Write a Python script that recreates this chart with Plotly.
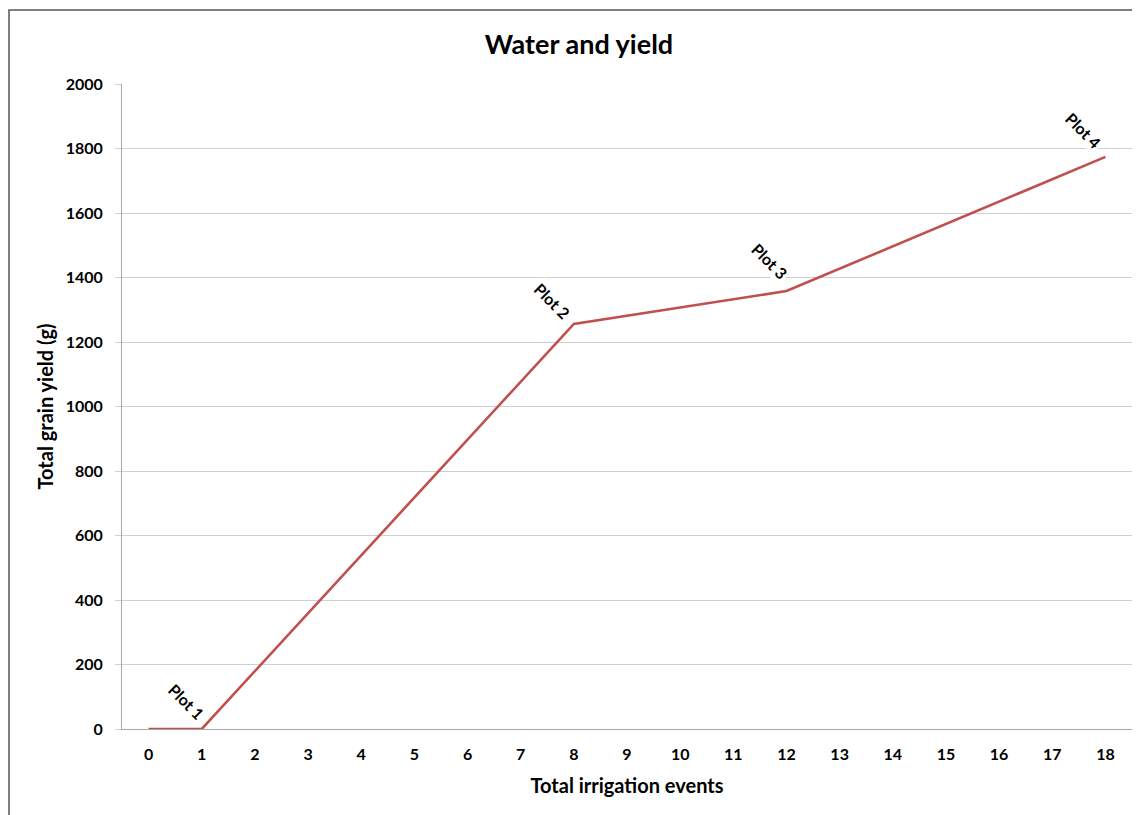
import plotly.graph_objects as go

irrigation_events = [0, 1, 8, 12, 18]
grain_yield = [0, 0, 1256, 1358, 1774]
point_labels = ["", "Plot 1", "Plot 2", "Plot 3", "Plot 4"]
x_ticks = list(range(0, 19))
y_ticks = [0, 200, 400, 600, 800, 1000, 1200, 1400, 1600, 1800, 2000]

font_family = "Lato, 'Open Sans', sans-serif"

W, H = 1132, 807
L, R, T, B = 114, 8, 76, 86
PW, PH = W - L - R, H - T - B

fig = go.Figure()
fig.add_trace(go.Scatter(
    x=irrigation_events, y=grain_yield, mode="lines",
    line=dict(color="#c0504d", width=2.6), showlegend=False, hoverinfo="x+y"))

offsets = {"Plot 1": (-15, 28), "Plot 2": (-22, 23), "Plot 3": (-16, 30), "Plot 4": (-22, 26)}
for xv, yv, lab in zip(irrigation_events, grain_yield, point_labels):
    if not lab:
        continue
    dx, dy = offsets[lab]
    fig.add_annotation(x=xv, y=yv, text="<b>%s</b>" % lab, showarrow=False,
                       textangle=45, xshift=dx, yshift=dy, bgcolor="white",
                       font=dict(family=font_family, size=16, color="#000000"))

fig.update_layout(
    width=W, height=H,
    margin=dict(l=L, r=R, t=T, b=B),
    paper_bgcolor="white", plot_bgcolor="white",
    title=dict(text="<b>Water and yield</b>", x=571 / W, xanchor="center", y=1 - 37 / H, yanchor="middle",
               font=dict(family=font_family, size=27, color="#000000")),
    font=dict(family=font_family, color="#000000"),
    xaxis=dict(range=[-0.5, 18.5], tickvals=x_ticks, ticktext=[str(v) for v in x_ticks],
               showgrid=False, zeroline=False, showline=True, linecolor="#a6a6a6", linewidth=1,
               ticks="", ticklabelstandoff=11, tickfont=dict(size=16, family=font_family, weight="bold"),
               title=dict(text="<b>Total irrigation events</b>", font=dict(size=20, family=font_family), standoff=16)),
    yaxis=dict(range=[0, 2000], tickvals=y_ticks, showgrid=True, gridcolor="#cfcfcf", gridwidth=1,
               zeroline=False, showline=True, linecolor="#a6a6a6", linewidth=1,
               ticks="outside", ticklen=6, tickcolor="#cfcfcf", ticklabelstandoff=9,
               tickfont=dict(size=16, family=font_family, weight="bold"),
               title=dict(text="<b>Total grain yield (g)</b>", font=dict(size=20, family=font_family), standoff=6)),
    shapes=[dict(type="rect", xref="paper", yref="paper",
                 x0=(1 - L) / PW, x1=(1131 - L) / PW, y0=-(B + 10) / PH, y1=(PH + T - 2) / PH,
                 line=dict(color="#555555", width=1.5), fillcolor="rgba(0,0,0,0)", layer="below")],
)

fig.write_html("out.html")
